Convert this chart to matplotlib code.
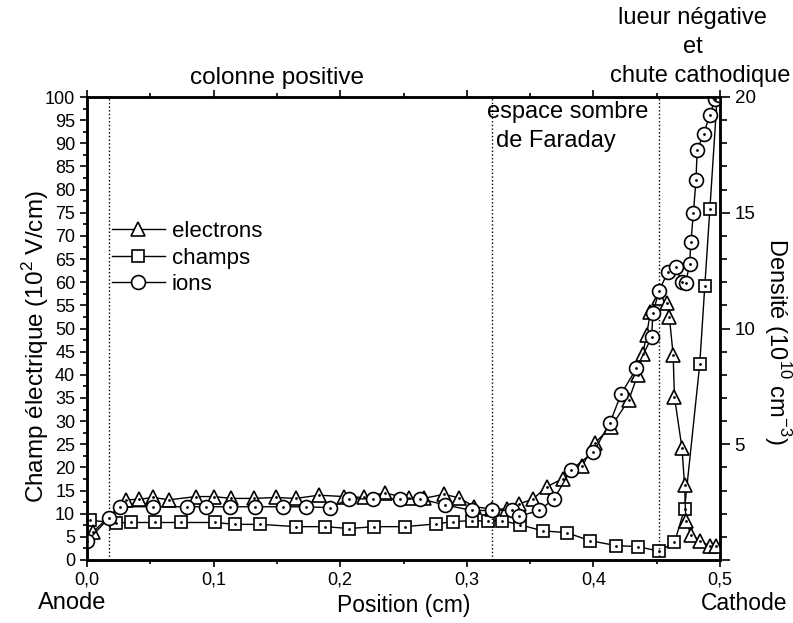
import numpy as np
import matplotlib.pyplot as plt
from matplotlib.ticker import MultipleLocator, FuncFormatter

plt.rcParams['font.family'] = ['Liberation Sans', 'DejaVu Sans']
plt.rcParams['mathtext.fontset'] = 'custom'
plt.rcParams['mathtext.rm'] = 'Liberation Sans'

# champ electrique (10^2 V/cm), left axis
x_champ = [0.002, 0.023, 0.035, 0.054, 0.074, 0.101, 0.117, 0.137, 0.165, 0.188,
           0.207, 0.227, 0.251, 0.276, 0.289, 0.304, 0.317, 0.328, 0.342, 0.360,
           0.379, 0.397, 0.418, 0.435, 0.452, 0.464, 0.472, 0.484, 0.488, 0.492, 0.498]
champ = [8.6, 8.0, 8.1, 8.1, 8.1, 8.1, 7.7, 7.7, 7.2, 7.2,
         6.8, 7.2, 7.2, 7.8, 8.3, 8.5, 8.4, 8.5, 7.6, 6.3,
         5.9, 4.2, 3.1, 2.9, 1.9, 3.8, 11.0, 42.3, 59.2, 75.8, 101.0]

# densites (10^10 cm^-3), right axis
x_elec = [0.005, 0.031, 0.041, 0.052, 0.065, 0.086, 0.100, 0.114, 0.132, 0.149,
          0.165, 0.183, 0.203, 0.219, 0.235, 0.254, 0.266, 0.282, 0.294, 0.306,
          0.320, 0.332, 0.341, 0.352, 0.363, 0.376, 0.391, 0.401, 0.414, 0.428,
          0.435, 0.439, 0.442, 0.445, 0.452, 0.458, 0.460, 0.463, 0.464, 0.470,
          0.472, 0.473, 0.477, 0.484, 0.492, 0.497]
elec = [1.22, 2.6, 2.62, 2.7, 2.6, 2.74, 2.74, 2.66, 2.66, 2.7,
        2.66, 2.8, 2.74, 2.7, 2.9, 2.66, 2.66, 2.84, 2.68, 2.3,
        2.2, 2.2, 2.42, 2.62, 3.16, 3.52, 4.04, 5.04, 5.76, 6.92,
        8.0, 8.92, 9.7, 10.72, 11.3, 11.08, 10.5, 8.86, 7.06, 4.82,
        3.24, 1.7, 1.1, 0.84, 0.6, 0.62]

x_ions = [0.000, 0.017, 0.026, 0.052, 0.079, 0.094, 0.113, 0.133, 0.155, 0.173,
          0.192, 0.207, 0.226, 0.247, 0.263, 0.283, 0.304, 0.320, 0.336, 0.341,
          0.357, 0.369, 0.382, 0.400, 0.413, 0.422, 0.434, 0.446, 0.447, 0.452,
          0.459, 0.465, 0.470, 0.473, 0.476, 0.477, 0.479, 0.481, 0.482, 0.487,
          0.492, 0.496, 0.499]
ions = [0.8, 1.8, 2.3, 2.3, 2.3, 2.3, 2.3, 2.3, 2.3, 2.3,
        2.26, 2.64, 2.64, 2.64, 2.64, 2.38, 2.14, 2.14, 2.16, 1.88,
        2.14, 2.64, 3.88, 4.66, 5.92, 7.18, 8.28, 9.62, 10.68, 11.64,
        12.46, 12.64, 12.02, 11.98, 12.8, 13.72, 15.0, 16.4, 17.7, 18.4,
        19.22, 19.9, 20.1]

zones = [0.0175, 0.320, 0.452]

W, H = 793, 623
fig = plt.figure(figsize=(W / 100, H / 100), dpi=100)
ax = fig.add_axes([87 / W, 1 - 560 / H, 633 / W, 463 / H])
ax2 = ax.twinx()

mk = dict(color='k', lw=1, mfc='white', mec='k', mew=1.2, ms=10)
dot = dict(ls='none', marker='.', ms=2, color='k')

ln_c, = ax.plot(x_champ, champ, marker='s', **{**mk, 'ms': 9})
ax.plot(x_champ, champ, **dot)
ln_e, = ax2.plot(x_elec, elec, marker='^', **mk)
ax2.plot(x_elec, elec, **dot)
ln_i, = ax2.plot(x_ions, ions, marker='o', **mk)
ax2.plot(x_ions, ions, **dot)

for z in zones:
    ax.axvline(z, color='k', ls=':', lw=1)

ax.set_xlim(0, 0.5)
ax.set_ylim(0, 100)
ax2.set_ylim(0, 20)
ax.xaxis.set_major_locator(MultipleLocator(0.1))
ax.xaxis.set_minor_locator(MultipleLocator(0.05))
ax.xaxis.set_major_formatter(FuncFormatter(lambda v, p: f'{v:.1f}'.replace('.', ',')))
ax.yaxis.set_major_locator(MultipleLocator(5))
ax.yaxis.set_minor_locator(MultipleLocator(2.5))
ax2.yaxis.set_major_locator(MultipleLocator(5))
ax2.yaxis.set_minor_locator(MultipleLocator(1))
ax2.yaxis.set_major_formatter(FuncFormatter(lambda v, p: '' if v == 0 else f'{v:.0f}'))

ax.tick_params(axis='both', which='both', direction='out', labelsize=13, width=1.2)
ax.tick_params(which='major', length=5)
ax.tick_params(which='minor', length=3)
ax.tick_params(axis='x', top=True, which='both')
ax2.tick_params(which='both', direction='out', labelsize=13.5, width=1.2)
ax2.tick_params(which='major', length=7)
ax2.tick_params(which='minor', length=5)
for a in (ax, ax2):
    for s in a.spines.values():
        s.set_linewidth(1.8)

ax.set_xlabel('Position (cm)', fontsize=16.5, labelpad=4)
fig.text(36 / W, 1 - 347 / H, r'Champ électrique (10$^{\mathregular{2}}$ V/cm)',
         fontsize=17.5, rotation=90, ha='center', va='center')
fig.text(777 / W, 1 - 341 / H, r'Densité (10$^{\mathregular{10}}$ cm$^{\mathregular{-3}}$)',
         fontsize=17, rotation=270, ha='center', va='center')

fig.text(72 / W, 1 - 603 / H, 'Anode', fontsize=17, ha='center', va='center')
fig.text(744 / W, 1 - 603 / H, 'Cathode', fontsize=16.5, ha='center', va='center')

fig.text(277 / W, 1 - 78 / H, 'colonne positive', fontsize=17.5, ha='center', va='center')
fig.text(487 / W, 1 - 112 / H, 'espace sombre', fontsize=17, ha='left', va='center')
fig.text(496 / W, 1 - 141 / H, 'de Faraday', fontsize=17, ha='left', va='center')
fig.text(692 / W, 1 - 18 / H, 'lueur négative', fontsize=17, ha='center', va='center')
fig.text(693 / W, 1 - 47 / H, 'et', fontsize=17, ha='center', va='center')
fig.text(700 / W, 1 - 76 / H, 'chute cathodique', fontsize=17, ha='center', va='center')

ax2.legend([ln_e, ln_c, ln_i], ['electrons', 'champs', 'ions'], loc='center left',
           bbox_to_anchor=(0.025, 0.652), frameon=False, fontsize=16, handlelength=2.4,
           handletextpad=0.3, labelspacing=0.25, borderaxespad=0)

fig.savefig('out.png', dpi=100)
